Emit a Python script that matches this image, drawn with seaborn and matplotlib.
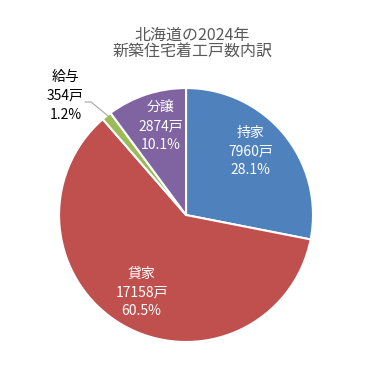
import matplotlib
matplotlib.use("Agg")
import matplotlib.pyplot as plt
import seaborn as sns

sns.set_style("white")
plt.rcParams['font.family'] = ['Noto Sans CJK JP', 'DejaVu Sans']

# data
categories = ["持家", "貸家", "給与", "分譲"]
counts = [7960, 17158, 354, 2874]
shares = ["28.1%", "60.5%", "1.2%", "10.1%"]
colors = ["#4F81BD", "#C0504D", "#9BBB59", "#8064A2"]

fig = plt.figure(figsize=(3.76, 3.74), dpi=100)
ax = fig.add_axes([0.157, 0.0856, 0.6755, 0.679])

wedges, _ = ax.pie(counts, colors=colors, startangle=90, counterclock=False,
                   radius=1, wedgeprops=dict(edgecolor="white", linewidth=1.5))
ax.set_xlim(-1, 1)
ax.set_ylim(-1, 1)
ax.set_aspect("equal")
ax.axis("off")

# label positions (in pie radius units)
label_pos = [(0.51, 0.50), (-0.35, -0.61), (-0.95, 0.94), (-0.20, 0.70)]
for i, cat in enumerate(categories):
    txt = f"{cat}\n{counts[i]}戸\n{shares[i]}"
    col = "black" if cat == "給与" else "white"
    ax.text(label_pos[i][0], label_pos[i][1], txt, ha="center", va="center",
            fontsize=10, color=col, linespacing=1.45, clip_on=False)

# leader line for small slice
ax.plot([-0.795, -0.748, -0.614], [0.89, 0.89, 0.78], color="#A6A6A6", lw=0.8, clip_on=False)

fig.text(0.511, 0.883, "北海道の2024年\n新築住宅着工戸数内訳", ha="center", va="center",
         fontsize=11.5, color="#595959", linespacing=0.98)

plt.savefig("out.png", dpi=100)
